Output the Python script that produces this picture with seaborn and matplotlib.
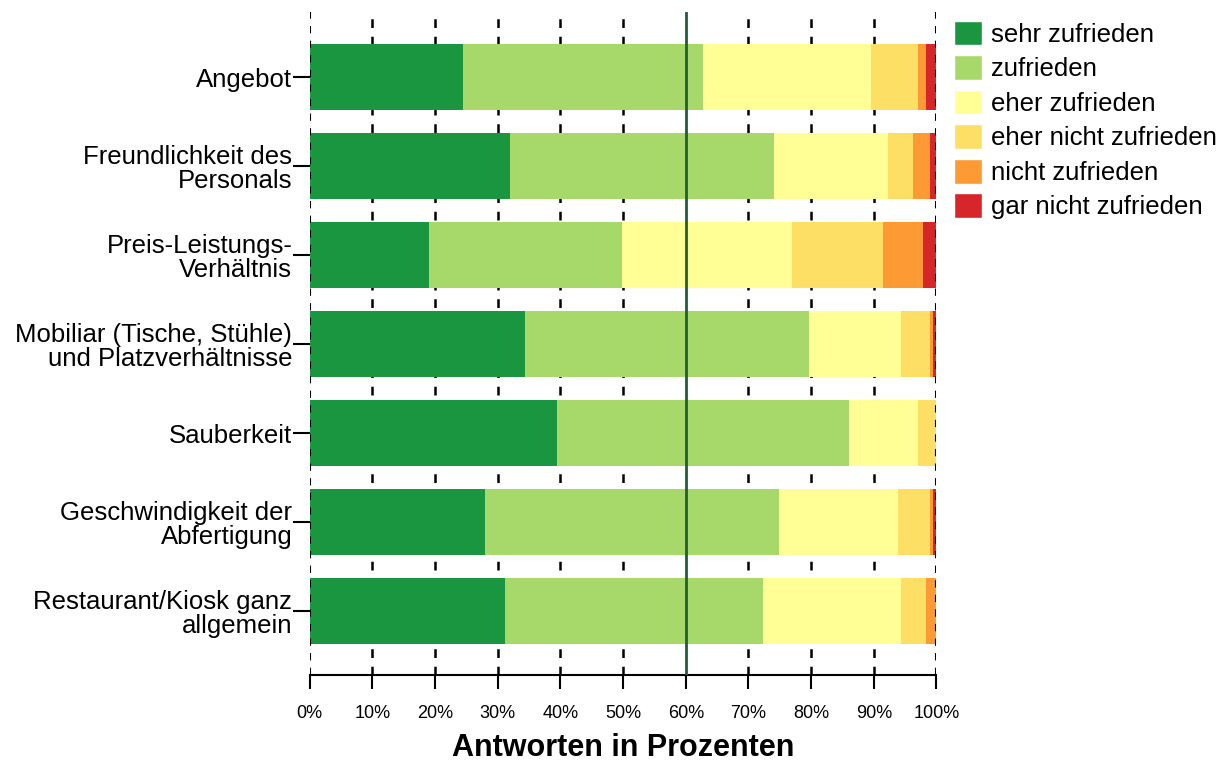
import numpy as np
import pandas as pd
import matplotlib
matplotlib.use("Agg")
import matplotlib.pyplot as plt
import seaborn as sns
from matplotlib.patches import Patch

sns.set_theme(style="white")
plt.rcParams["font.family"] = ["Liberation Sans", "DejaVu Sans"]
plt.rcParams.update({"text.color": "black", "axes.labelcolor": "black",
                     "xtick.color": "black", "ytick.color": "black"})

# Kategorien und Anteile (in %)
categories = [
    "Angebot",
    "Freundlichkeit des\nPersonals",
    "Preis-Leistungs-\nVerhältnis",
    "Mobiliar (Tische, Stühle)\nund Platzverhältnisse",
    "Sauberkeit",
    "Geschwindigkeit der\nAbfertigung",
    "Restaurant/Kiosk ganz\nallgemein",
]
levels = [
    "sehr zufrieden",
    "zufrieden",
    "eher zufrieden",
    "eher nicht zufrieden",
    "nicht zufrieden",
    "gar nicht zufrieden",
]
sehr_zufrieden = [24.4, 32.0, 19.1, 34.3, 39.4, 27.9, 31.1]
zufrieden = [38.3, 42.0, 30.7, 45.3, 46.7, 46.9, 41.2]
eher_zufrieden = [26.8, 18.2, 27.1, 14.8, 11.0, 19.0, 22.1]
eher_nicht_zufrieden = [7.6, 4.0, 14.6, 4.5, 2.9, 5.1, 3.9]
nicht_zufrieden = [1.2, 2.7, 6.3, 0.6, 0.0, 0.5, 1.7]
gar_nicht_zufrieden = [1.7, 1.1, 2.2, 0.5, 0.0, 0.6, 0.0]
colors = ["#1a9641", "#a6d96a", "#ffff96", "#fedf66", "#fd9a33", "#d7262a"]

df = pd.DataFrame(
    np.column_stack([sehr_zufrieden, zufrieden, eher_zufrieden,
                     eher_nicht_zufrieden, nicht_zufrieden, gar_nicht_zufrieden]),
    columns=levels, index=categories,
)
# auf 100 % normieren und kumulieren
df = df.div(df.sum(axis=1), axis=0) * 100
cum = df.cumsum(axis=1)

fig, ax = plt.subplots(figsize=(12.29, 7.63), dpi=100)
fig.subplots_adjust(left=0.252, right=0.762, top=0.984, bottom=0.115)

# Gitterlinien (innen hinter den Balken, Rand darüber)
dash = (0, (3.5, 3.5))
for x in range(10, 100, 10):
    if x == 60:
        continue
    ax.axvline(x, color="black", ls=dash, lw=1.8, zorder=0)
for x in (0, 100):
    ax.axvline(x, color="black", ls=dash, lw=1.5, zorder=4)

# gestapelte Balken: kumulierte Werte von hinten nach vorne
for lvl, col in reversed(list(zip(levels, colors))):
    sns.barplot(x=cum[lvl].values, y=categories, orient="h", color=col,
                width=0.74, saturation=1, linewidth=0, ax=ax, zorder=2)

ax.axvline(60, color="#1d5e3b", lw=2, zorder=3)

ax.set_xlim(0, 100)
ax.set_ylim(6.72, -0.73)
ax.set_xticks(range(0, 101, 10))
ax.set_xticklabels([f"{x}%" for x in range(0, 101, 10)], fontsize=13)
ax.tick_params(axis="x", direction="out", bottom=True, length=10, width=1.5, pad=11.5)
ax.tick_params(axis="y", direction="out", left=True, length=12, width=1.5, pad=0.5,
               labelsize=18.5)
for lab in ax.get_yticklabels():
    lab.set_multialignment("right")
    lab.set_linespacing(1.0)

for s in ["top", "right", "left"]:
    ax.spines[s].set_visible(False)
ax.spines["bottom"].set_color("black")
ax.spines["bottom"].set_linewidth(1.5)

ax.set_xlabel("Antworten in Prozenten", fontsize=22, fontweight="bold")
ax.xaxis.set_label_coords(0.5, -0.0865)
ax.set_ylabel("")

handles = [Patch(facecolor=c, label=l) for l, c in zip(levels, colors)]
ax.legend(handles=handles, loc="upper left", bbox_to_anchor=(1.02, 0.995),
          frameon=False, fontsize=18.5, handlelength=1.1, handleheight=1.1,
          handletextpad=0.35, labelspacing=0.33, borderaxespad=0.15,
          borderpad=0.05)

plt.savefig("out.png", dpi=100)
